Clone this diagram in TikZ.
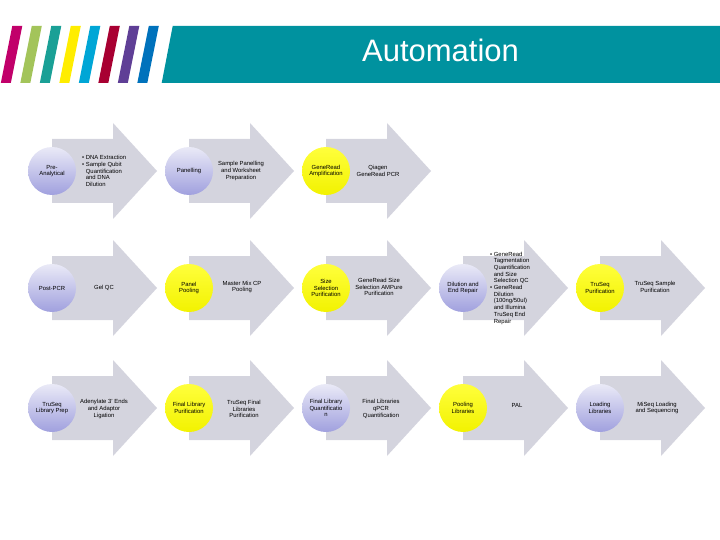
\documentclass[tikz,border=0pt]{standalone}
\usepackage{fontspec}
\setmainfont{Liberation Sans}
\definecolor{bannerteal}{RGB}{0,146,159}
\definecolor{arrowgray}{RGB}{212,212,222}
\definecolor{stripeA}{RGB}{193,0,106}
\definecolor{stripeB}{RGB}{163,196,90}
\definecolor{stripeC}{RGB}{26,160,150}
\definecolor{stripeD}{RGB}{255,237,0}
\definecolor{stripeE}{RGB}{0,166,214}
\definecolor{stripeF}{RGB}{168,0,50}
\definecolor{stripeG}{RGB}{95,63,150}
\definecolor{stripeH}{RGB}{0,114,188}
\newcommand{\blt}{\textbullet\ }
\newcommand{\ind}{\hphantom{\textbullet\ }}
\tikzset{
  blockarrow/.style={fill=arrowgray},
  lavcircle/.style={circle, minimum size=48pt, inner sep=0pt, align=center,
    top color={rgb,255:red,234;green,234;blue,247}, bottom color={rgb,255:red,160;green,160;blue,222},
    font=\fontsize{5.9}{6.7}\selectfont},
  yelcircle/.style={circle, minimum size=48pt, inner sep=0pt, align=center,
    top color={rgb,255:red,255;green,255;blue,60}, bottom color={rgb,255:red,242;green,242;blue,0},
    font=\fontsize{5.9}{6.7}\selectfont},
  steptext/.style={align=center, inner sep=0pt, font=\fontsize{5.9}{6.7}\selectfont},
  bullettext/.style={align=left, anchor=west, inner sep=0pt, font=\fontsize{5.9}{6.7}\selectfont},
  titletext/.style={text=white, anchor=base, font=\fontsize{31}{31}\selectfont}
}
\begin{document}
\begin{tikzpicture}[x=1pt,y=-1pt]
\useasboundingbox (0,0) rectangle (720,540);
% header stripes and banner
\foreach \c [count=\i from 0] in {stripeA,stripeB,stripeC,stripeD,stripeE,stripeF,stripeG,stripeH}
  \fill[\c] ({12.3+19.5*\i},26) -- ({22.3+19.5*\i},26) -- ({10.8+19.5*\i},83) -- ({0.8+19.5*\i},83) -- cycle;
\fill[bannerteal] (172.7,26) -- (720,26) -- (720,83) -- (161.7,83) -- cycle;
\node[titletext] (title) at (440.5,61.7) {Automation};
% block arrows
\foreach \cx/\cy in {52/171, 189/171, 326/171,
    52/288, 189/288, 326/288, 463/288, 600/288,
    52/408, 189/408, 326/408, 463/408, 600/408}
  \fill[blockarrow] (\cx,\cy-32) -- (\cx+61,\cy-32) -- (\cx+61,\cy-48) -- (\cx+105,\cy)
    -- (\cx+61,\cy+48) -- (\cx+61,\cy+32) -- (\cx,\cy+32) -- cycle;
% row 1
\node[lavcircle] (preanalytical) at (52,171) {Pre-\\Analytical};
\node[bullettext] (dnalist) at (82,171) {\blt DNA Extraction\\\blt Sample Qubit\\\ind Quantification\\\ind and DNA\\\ind Dilution};
\node[lavcircle] (panelling) at (189,171) {Panelling};
\node[steptext] (panellingtxt) at (241,171) {Sample Panelling\\and Worksheet\\Preparation};
\node[yelcircle] (amplification) at (326,171) {GeneRead\\Amplification};
\node[steptext] (amplificationtxt) at (378,171) {Qiagen\\GeneRead PCR};
% row 2
\node[lavcircle] (postpcr) at (52,288) {Post-PCR};
\node[steptext] (gelqc) at (104,288) {Gel QC};
\node[yelcircle] (panelpool) at (189,288) {Panel\\Pooling};
\node[steptext] (panelpooltxt) at (242,287) {Master Mix CP\\Pooling};
\node[yelcircle] (sizesel) at (326,288) {Size\\Selection\\Purification};
\node[steptext] (sizeseltxt) at (379,287) {GeneRead Size\\Selection AMPure\\Purification};
\node[lavcircle] (endrepair) at (463,288) {Dilution and\\End Repair};
\node[bullettext] (endrepairlist) at (490,288) {\blt GeneRead\\\ind Tagmentation\\\ind Quantification\\\ind and Size\\\ind Selection QC\\\blt GeneRead\\\ind Dilution\\\ind (100ng/50ul)\\\ind and Illumina\\\ind TruSeq End\\\ind Repair};
\node[yelcircle] (truseqpur) at (600,288) {TruSeq\\Purification};
\node[steptext] (truseqpurtxt) at (655,287) {TruSeq Sample\\Purification};
% row 3
\node[lavcircle] (libprep) at (52,408) {TruSeq\\Library Prep};
\node[steptext] (libpreptxt) at (104,409) {Adenylate 3' Ends\\and Adaptor\\Ligation};
\node[yelcircle] (finalpur) at (189,408) {Final Library\\Purification};
\node[steptext] (finalpurtxt) at (244,409) {TruSeq Final\\Libraries\\Purification};
\node[lavcircle] (finalquant) at (326,408) {Final Library\\Quantificatio\\n};
\node[steptext] (finalquanttxt) at (381,409) {Final Libraries\\qPCR\\Quantification};
\node[yelcircle] (poolinglib) at (463,408) {Pooling\\Libraries};
\node[steptext] (pal) at (517,405) {PAL};
\node[lavcircle] (loadinglib) at (600,408) {Loading\\Libraries};
\node[steptext] (sequencing) at (657,408) {MiSeq Loading\\and Sequencing};
\end{tikzpicture}
\end{document}
